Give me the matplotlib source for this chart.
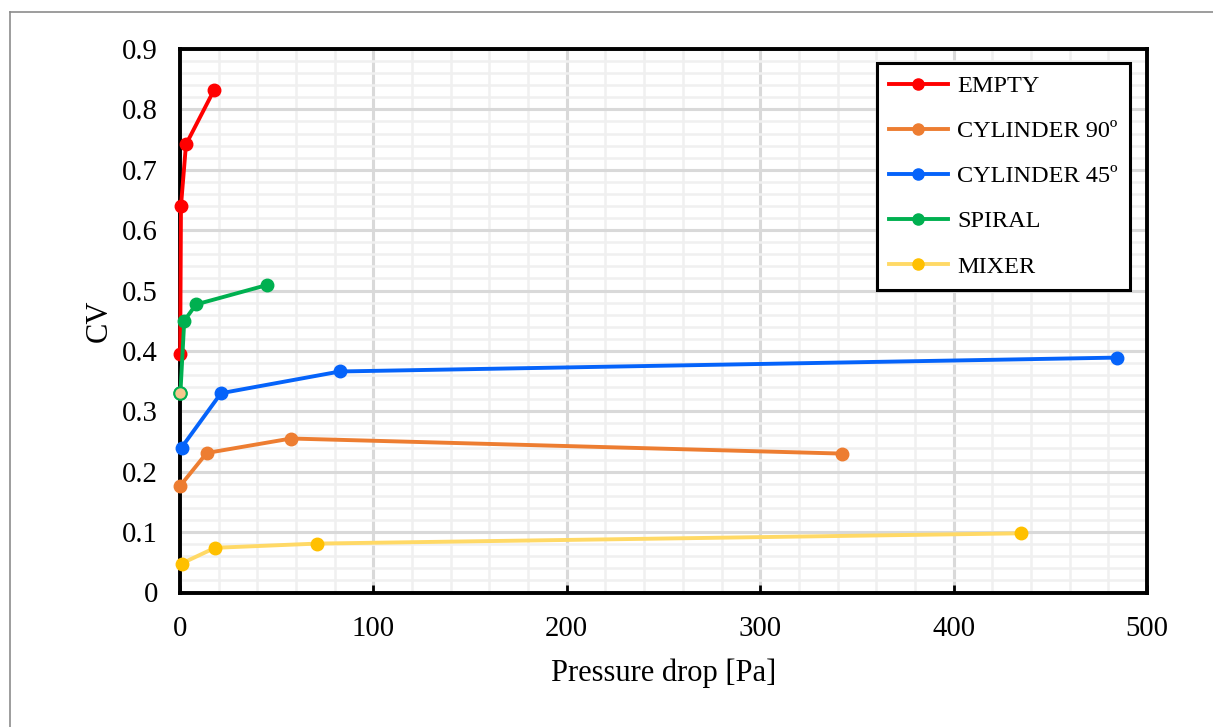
import numpy as np
import matplotlib.pyplot as plt
from matplotlib.lines import Line2D
from matplotlib.ticker import MultipleLocator

plt.rcParams['font.family'] = ['Liberation Serif', 'DejaVu Serif']

# data
empty_x = [0.1, 0.5, 3.1, 17.6]
empty_y = [0.395, 0.640, 0.742, 0.832]

cyl90_x = [0.2, 13.8, 57.4, 342.5]
cyl90_y = [0.177, 0.231, 0.255, 0.230]

cyl45_x = [0.8, 21.2, 82.7, 484.6]
cyl45_y = [0.240, 0.330, 0.366, 0.389]

spiral_x = [0.2, 2.2, 8.3, 44.8]
spiral_y = [0.330, 0.450, 0.477, 0.509]

mixer_x = [0.8, 18.1, 71.0, 434.7]
mixer_y = [0.048, 0.074, 0.081, 0.098]

labels = ["EMPTY", "CYLINDER 90º", "CYLINDER 45º", "SPIRAL", "MIXER"]
line_colors = ["#ff0000", "#ed7d31", "#0563fa", "#00b050", "#ffd966"]
marker_colors = ["#ff0000", "#ed7d31", "#0563fa", "#00b050", "#ffc000"]

W, H = 1213, 727
fig = plt.figure(figsize=(W / 100, H / 100), dpi=100)
ax = fig.add_axes([180 / W, 1 - 592.5 / H, (1147 - 180) / W, (592.5 - 49) / H])

series = [(empty_x, empty_y), (cyl90_x, cyl90_y), (cyl45_x, cyl45_y),
          (spiral_x, spiral_y), (mixer_x, mixer_y)]
for (xs, ys), lab, lc, mc in zip(series, labels, line_colors, marker_colors):
    ax.plot(xs, ys, color=lc, lw=2.8, marker='o', ms=9,
            markerfacecolor=mc, markeredgecolor=mc, label=lab, zorder=3,
            clip_on=False)

# first spiral point has a different fill in the original
ax.plot(spiral_x[0], spiral_y[0], 'o', ms=9, markerfacecolor='#f5c78e',
        markeredgecolor='#00b050', markeredgewidth=1.5, zorder=4, clip_on=False)

ax.set_xlim(0, 500)
ax.set_ylim(0, 0.9)
ax.xaxis.set_major_locator(MultipleLocator(100))
ax.xaxis.set_minor_locator(MultipleLocator(20))
ax.yaxis.set_major_locator(MultipleLocator(0.1))
ax.yaxis.set_minor_locator(MultipleLocator(0.02))
ax.set_yticks(np.arange(0, 0.91, 0.1))
ax.set_yticklabels(["0"] + ["%.1f" % v for v in np.arange(0.1, 0.91, 0.1)])

ax.grid(which='major', color='#d9d9d9', lw=2.2, zorder=0)
ax.grid(which='minor', color='#f0f0f0', lw=1.8, zorder=0)
ax.set_axisbelow(True)

for sp in ax.spines.values():
    sp.set_linewidth(2.8)
    sp.set_color('black')

ax.tick_params(axis='x', which='major', direction='in', length=6, width=2,
               labelsize=20.7, pad=17)
ax.tick_params(axis='y', which='major', length=0, labelsize=20.7, pad=16)
ax.tick_params(which='minor', length=0)

ax.set_xlabel("Pressure drop [Pa]", fontsize=22, labelpad=12)
ax.set_ylabel("CV", fontsize=22, labelpad=6)

leg = ax.legend(loc='upper right', bbox_to_anchor=(1130 / W, 1 - 63 / H),
                bbox_transform=fig.transFigure, fontsize=17.5, frameon=True,
                fancybox=False, edgecolor='black', framealpha=1,
                handlelength=2.4, labelspacing=0.95, borderpad=0.5,
                handletextpad=0.4, borderaxespad=0)
leg.get_frame().set_linewidth(2.2)
for h in leg.legend_handles:
    h.set_markersize(8)

# outer gray border of the picture
fig.add_artist(Line2D([10 / W, 10 / W], [0, 1 - 12 / H], transform=fig.transFigure,
                      color='#8c8c8c', lw=1.2))
fig.add_artist(Line2D([10 / W, 1], [1 - 12 / H, 1 - 12 / H], transform=fig.transFigure,
                      color='#8c8c8c', lw=1.2))

fig.savefig("out.png", dpi=100)
